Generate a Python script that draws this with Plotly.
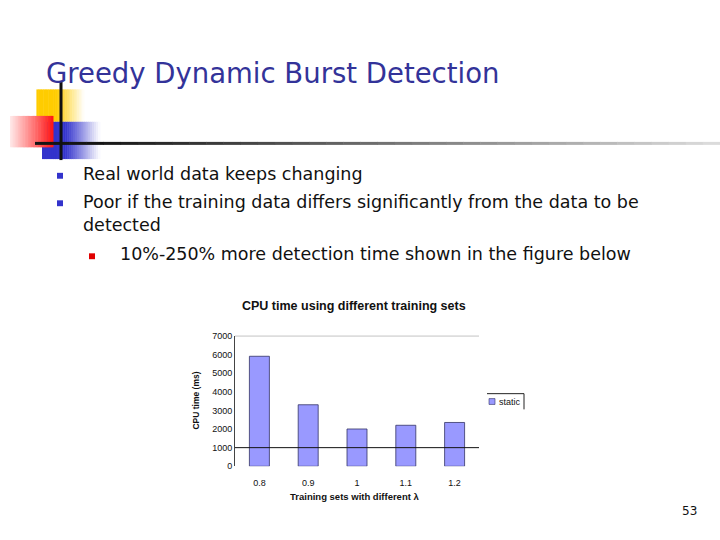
import plotly.graph_objects as go

# slide text
slide_title = "Greedy Dynamic Burst Detection"
bullets = ["Real world data keeps changing",
           "Poor if the training data differs significantly from the data to be<br>detected"]
sub_bullet = "10%-250% more detection time shown in the figure below"
page_no = "53"

# chart data
chart_title = "CPU time using different training sets"
lambdas = ["0.8", "0.9", "1", "1.1", "1.2"]
cpu_ms = [5900, 3300, 2000, 2200, 2350]
series_name = "static"

W, H = 720, 540


def px(x):
    return x / W


def py(y):
    return 1 - y / H


def mix(c0, c1, t):
    return "rgb(%d,%d,%d)" % tuple(round(a + (b - a) * t) for a, b in zip(c0, c1))


shapes = []


def grad_rect(x0, x1, y0, y1, c_left, c_right, solid=0.0, n=30):
    # solid: fraction of the width (from the left) kept at c_left
    step = (x1 - x0) / n
    for i in range(n):
        f = (i + 0.5) / n
        t = 0 if f <= solid else (f - solid) / (1 - solid)
        shapes.append(dict(type="rect", xref="paper", yref="paper", layer="above",
                           x0=px(x0 + i * step), x1=px(x0 + (i + 1) * step + 0.5),
                           y0=py(y1), y1=py(y0), line=dict(width=0),
                           fillcolor=mix(c_left, c_right, t)))


white = (255, 255, 255)
# slide decoration (yellow, blue, red blocks)
grad_rect(33, 84, 86, 119, (255, 204, 0), white, solid=0.45)
grad_rect(42, 100, 119, 157, (51, 51, 204), white, solid=0.4)
grad_rect(10, 53, 113, 145, (255, 235, 235), (255, 20, 20))

# horizontal rule fading to grey
n = 40
for i in range(n):
    x0 = 35 + i * (720 - 35) / n
    x1 = 35 + (i + 1) * (720 - 35) / n + 0.5
    t = max(0, (i - 3) / (n - 3))
    shapes.append(dict(type="line", xref="paper", yref="paper",
                       x0=px(x0), x1=px(x1), y0=py(141), y1=py(141),
                       line=dict(color=mix((20, 20, 20), (225, 225, 225), t), width=3)))
shapes.append(dict(type="line", xref="paper", yref="paper",
                   x0=px(61), x1=px(61), y0=py(78), y1=py(158),
                   line=dict(color="#111111", width=3)))

# bullet squares
for bx, by, col in [(60, 174, "#3333CC"), (60, 202, "#3333CC"), (92, 256, "#E00000")]:
    shapes.append(dict(type="rect", xref="paper", yref="paper",
                       x0=px(bx - 3), x1=px(bx + 3), y0=py(by + 3), y1=py(by - 3),
                       line_width=0, fillcolor=col))

# legend: frame (top and right edges only) and swatch
shapes.append(dict(type="line", xref="paper", yref="paper", x0=px(487), x1=px(524),
                   y0=py(396), y1=py(396), line=dict(color="#222", width=1)))
shapes.append(dict(type="line", xref="paper", yref="paper", x0=px(524), x1=px(524),
                   y0=py(396), y1=py(412), line=dict(color="#222", width=1)))
shapes.append(dict(type="rect", xref="paper", yref="paper", x0=px(489), x1=px(495),
                   y0=py(407), y1=py(401), fillcolor="#9999FF",
                   line=dict(color="#333366", width=0.6)))

fig = go.Figure()
fig.add_trace(go.Bar(x=lambdas, y=cpu_ms, name=series_name, width=0.41,
                     marker=dict(color="#9999FF", line=dict(color="#333366", width=0.8))))

# gridline at 1000 and top frame line
fig.add_hline(y=1000, line=dict(color="#111", width=1))
fig.add_hline(y=7000, line=dict(color="#777", width=1))

ann = []
ann.append(dict(text=slide_title, x=px(44), y=py(69), xref="paper", yref="paper",
                xanchor="left", yanchor="middle", showarrow=False,
                font=dict(family="DejaVu Sans", size=27.5, color="#333399")))
ann.append(dict(text=bullets[0], x=px(81), y=py(172), xref="paper", yref="paper",
                xanchor="left", yanchor="middle", showarrow=False,
                font=dict(family="DejaVu Sans", size=17.5, color="#111")))
ann.append(dict(text=bullets[1], x=px(81), y=py(212), xref="paper", yref="paper",
                xanchor="left", yanchor="middle", align="left", showarrow=False,
                font=dict(family="DejaVu Sans", size=17.5, color="#111")))
ann.append(dict(text=sub_bullet, x=px(118), y=py(254), xref="paper", yref="paper",
                xanchor="left", yanchor="middle", showarrow=False,
                font=dict(family="DejaVu Sans", size=17.5, color="#111")))
ann.append(dict(text=page_no, x=px(689), y=py(516), xref="paper", yref="paper",
                xanchor="center", yanchor="middle", showarrow=False,
                font=dict(family="DejaVu Sans", size=12, color="#111")))
ann.append(dict(text="<b>" + chart_title + "</b>", x=px(354), y=py(307), xref="paper",
                yref="paper", xanchor="center", yanchor="middle", showarrow=False,
                font=dict(family="Liberation Sans", size=12.5, color="#111")))
ann.append(dict(text="<b>Training sets with different λ</b>", x=px(355), y=py(501),
                xref="paper", yref="paper", xanchor="center", yanchor="middle",
                showarrow=False, font=dict(family="Liberation Sans", size=9.5, color="#111")))
ann.append(dict(text="<b>CPU time (ms)</b>", x=px(196), y=py(403), xref="paper",
                yref="paper", xanchor="center", yanchor="middle", textangle=-90,
                showarrow=False, font=dict(family="Liberation Sans", size=8.5, color="#111")))
ann.append(dict(text=series_name, x=px(497), y=py(404), xref="paper", yref="paper",
                xanchor="left", yanchor="middle", showarrow=False,
                font=dict(family="Liberation Sans", size=9, color="#111")))

fig.update_layout(
    width=W, height=H,
    margin=dict(l=0, r=0, t=0, b=0),
    paper_bgcolor="white", plot_bgcolor="white",
    showlegend=False,
    xaxis=dict(domain=[px(235), px(479)], type="category", showline=False,
               showgrid=False, ticks="", ticklabelstandoff=10,
               tickfont=dict(family="Liberation Sans", size=9, color="#111")),
    yaxis=dict(domain=[py(470), py(337)], range=[0, 7000], tickvals=[0, 1000, 2000, 3000,
               4000, 5000, 6000, 7000], showgrid=False, zeroline=False, showline=True,
               linecolor="#444", linewidth=1, ticks="",
               tickfont=dict(family="Liberation Sans", size=9, color="#111")),
    shapes=shapes,
    annotations=ann,
)

fig.write_html("out.html", config={"displayModeBar": False},
               post_script="document.body.style.margin='0';")
